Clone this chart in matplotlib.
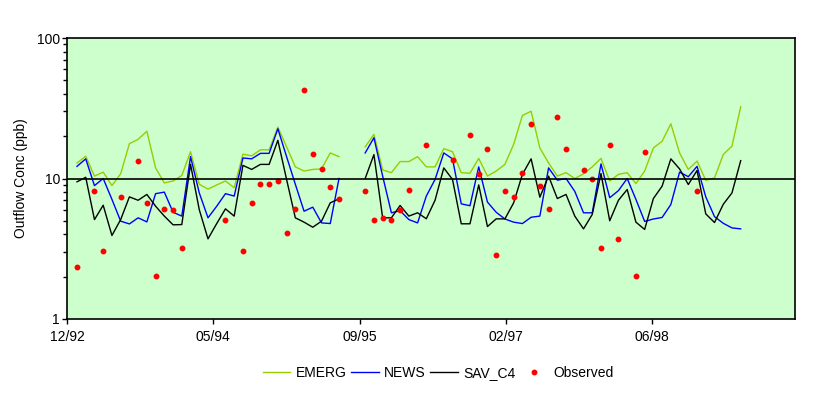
import numpy as np
import matplotlib
matplotlib.use('Agg')
import matplotlib.pyplot as plt
from matplotlib.ticker import FixedLocator, LogLocator, NullFormatter

plt.rcParams['font.family'] = ['Liberation Sans', 'DejaVu Sans']

nan = np.nan

# monthly model results (index 0 = first month), gap at 31-32
emerg = [12.9, 14.4, 10.4, 11.1, 8.9, 10.8, 17.7, 19.0, 21.7, 11.9,
         9.3, 9.6, 10.5, 15.5, 9.1, 8.4, 9.0, 9.6, 8.6, 14.9,
         14.5, 16.0, 16.0, 23.2, 16.8, 12.1, 11.3, 11.6, 11.7, 15.2,
         14.3, nan, nan, 16.8, 20.6, 11.5, 11.0, 13.2, 13.2, 14.3,
         12.1, 12.1, 16.3, 15.5, 11.0, 10.9, 13.9, 10.4, 11.3, 12.6,
         17.5, 28.1, 30.1, 16.5, 12.9, 10.4, 11.0, 10.0, 10.8, 12.1,
         13.9, 9.6, 10.7, 11.0, 9.2, 11.3, 16.5, 18.4, 24.5, 15.2,
         11.6, 13.3, 9.7, 10.1, 14.8, 17.0, 32.4]

news = [12.2, 13.8, 8.9, 10.0, 7.1, 4.97, 4.75, 5.25, 4.91, 7.8,
        8.0, 5.75, 5.4, 14.3, 7.9, 5.25, 6.35, 7.8, 7.5, 14.0,
        13.8, 15.1, 15.1, 22.6, 14.3, 9.1, 5.85, 6.25, 4.83, 4.78,
        10.0, nan, nan, 15.2, 19.5, 10.4, 5.7, 5.9, 5.1, 4.83,
        7.5, 9.84, 15.2, 13.8, 6.6, 6.4, 12.1, 6.8, 5.75, 5.15,
        4.89, 4.78, 5.3, 5.4, 11.9, 9.73, 10.0, 8.1, 5.7, 5.7,
        12.7, 7.3, 8.2, 10.0, 7.1, 4.95, 5.15, 5.28, 6.53, 11.1,
        10.3, 12.2, 7.4, 5.35, 4.8, 4.45, 4.38]

sav_c4 = [9.47, 10.2, 5.1, 6.45, 3.93, 5.1, 7.4, 7.0, 7.7, 6.35,
          5.4, 4.68, 4.7, 12.6, 6.0, 3.72, 4.78, 6.08, 5.4, 12.4,
          11.6, 12.6, 12.6, 18.7, 9.84, 5.25, 4.89, 4.5, 4.97, 6.71,
          7.17, nan, nan, 10.0, 14.8, 5.25, 5.25, 6.43, 5.4, 5.7,
          5.17, 7.0, 11.9, 9.84, 4.76, 4.76, 9.0, 4.55, 5.16, 5.16,
          6.71, 10.7, 13.8, 7.36, 10.4, 7.2, 7.7, 5.4, 4.38, 5.55,
          10.85, 5.0, 7.0, 8.35, 4.89, 4.34, 7.2, 8.82, 13.8, 11.7,
          9.06, 11.4, 5.6, 4.86, 6.55, 7.9, 13.4]

# observed samples: month index and concentration
obs_month = [0, 2, 3, 5, 7, 8, 9, 10, 11, 12,
             17, 19, 20, 21, 22, 23, 24, 25, 26, 27,
             28, 29, 30, 33, 34, 35, 36, 37, 38, 40,
             43, 45, 46, 47, 48, 49, 50, 51, 52, 53,
             54, 55, 56, 58, 59, 60, 61, 62, 64, 65, 71]
obs_val = [2.34, 8.1, 3.04, 7.36, 13.3, 6.67, 2.02, 6.05, 5.92, 3.19,
           5.05, 3.04, 6.67, 9.1, 9.1, 9.57, 4.08, 6.05, 42.5, 14.9,
           11.6, 8.67, 7.12, 8.1, 5.05, 5.22, 5.05, 5.95, 8.26, 17.3,
           13.5, 20.3, 10.85, 16.2, 2.85, 8.1, 7.36, 10.9, 24.3, 8.82,
           6.05, 27.3, 16.2, 11.5, 10.0, 3.19, 17.3, 3.7, 2.02, 15.4, 8.1]

tick_labels = ['12/92', '05/94', '09/95', '02/97', '06/98']

months = np.arange(len(emerg))

fig = plt.figure(figsize=(8.29, 3.96), dpi=100)
ax = fig.add_axes([67 / 829, 77 / 396, 728 / 829, 281 / 396])
ax.set_facecolor('#CCFFCC')

ax.plot(months, emerg, color='#99CC00', lw=1.0, label='EMERG')
ax.plot(months, news, color='#0000FF', lw=1.0, label='NEWS')
ax.plot(months, sav_c4, color='black', lw=1.0, label='SAV_C4')
ax.plot(obs_month, obs_val, ls='none', marker='o', ms=3.2,
        color='#FF0000', label='Observed')
ax.axhline(10, color='black', lw=1.2)

ax.set_yscale('log')
ax.set_ylim(1, 100)
x0 = -10 / 8.733
ax.set_xlim(x0, 718 / 8.733)
ax.xaxis.set_major_locator(FixedLocator([x0 + 16.75 * i for i in range(len(tick_labels))]))
ax.set_xticklabels(tick_labels)
ax.yaxis.set_major_locator(FixedLocator([1, 10, 100]))
ax.set_yticklabels(['1', '10', '100'])
ax.yaxis.set_minor_locator(LogLocator(base=10, subs=np.arange(2, 10)))
ax.yaxis.set_minor_formatter(NullFormatter())
ax.tick_params(axis='both', which='major', direction='out', length=3.6,
               width=1, labelsize=10, colors='black')
ax.tick_params(axis='y', which='major', pad=1.5)
ax.tick_params(axis='x', which='major', pad=4)
ax.tick_params(axis='y', which='minor', direction='out', length=3.2, width=1)
ax.set_ylabel('Outflow Conc (ppb)', fontsize=10, labelpad=6)
for s in ax.spines.values():
    s.set_color('black')
    s.set_linewidth(1.2)

fig.legend(loc='center', bbox_to_anchor=(438 / 829, 23 / 396), ncol=4,
           frameon=False, fontsize=10, handlelength=2.0, numpoints=1,
           columnspacing=0.3, handletextpad=0.4)

fig.savefig('out.png', dpi=100)
